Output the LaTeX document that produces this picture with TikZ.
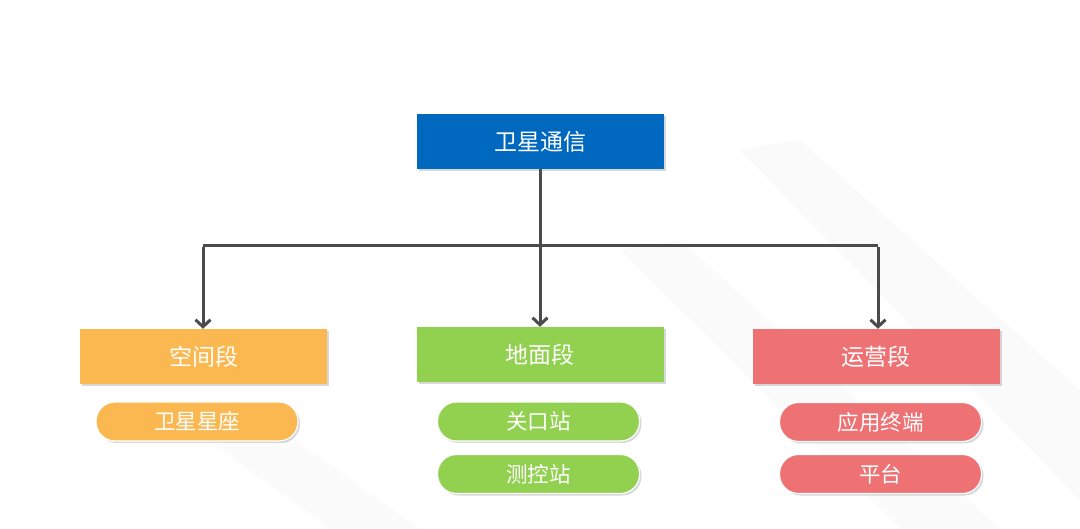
\documentclass[tikz,border=0pt]{standalone}
\usepackage{fontspec}
\setmainfont{Noto Sans CJK SC}
\usetikzlibrary{arrows.meta,shadows}
\definecolor{topblue}{HTML}{0068BF}
\definecolor{orgc}{HTML}{FBB850}
\definecolor{grnc}{HTML}{92D050}
\definecolor{redc}{HTML}{EE7173}
\definecolor{linec}{HTML}{4B4B4B}
\definecolor{bandc}{HTML}{F4F5F6}
\tikzset{
  x=1pt, y=-1pt,
  mainbox/.style={rectangle, minimum width=247pt, minimum height=55pt, inner sep=0pt,
    text=white, font=\fontsize{23}{27}\selectfont,
    drop shadow={shadow xshift=2pt, shadow yshift=-2pt, opacity=0.25, fill=black!60}},
  pill/.style={rectangle, rounded corners=19pt, minimum width=202pt, minimum height=39pt, inner sep=0pt,
    text=white, font=\fontsize{21.5}{24}\selectfont, draw=white, line width=1.2pt,
    drop shadow={shadow xshift=2pt, shadow yshift=-2pt, opacity=0.25, fill=black!60}},
  conn/.style={draw=linec, line width=3pt},
  arr/.style={conn, -{Straight Barb[length=7pt,width=15pt,line width=3pt]}}
}
\begin{document}
\begin{tikzpicture}
\useasboundingbox (0,0) rectangle (1080,529);
\fill[white] (0,0) rectangle (1080,529);
% faint background bands
\fill[bandc, opacity=0.45] (740,150) -- (800,140) -- (1080,390) -- (1080,500) -- cycle;
\fill[bandc, opacity=0.35] (620,250) -- (680,240) -- (1000,529) -- (900,529) -- cycle;
\fill[bandc, opacity=0.3] (180,420) -- (240,400) -- (420,529) -- (330,529) -- cycle;

\node[mainbox, fill=topblue] (top) at (540,141.5) {卫星通信};
\node[mainbox, fill=orgc] (space) at (203.5,356.5) {空间段};
\node[mainbox, fill=grnc] (ground) at (540,354.5) {地面段};
\node[mainbox, fill=redc] (ops) at (876,356.5) {运营段};

\node[pill, fill=orgc] (p1) at (197,421.5) {卫星星座};
\node[pill, fill=grnc] (p2) at (538.5,421.5) {关口站};
\node[pill, fill=grnc] (p3) at (538.5,474) {测控站};
\node[pill, fill=redc] (p4) at (880.5,422) {应用终端};
\node[pill, fill=redc] (p5) at (880.5,474) {平台};

\coordinate (bl) at (203,246);
\coordinate (bm) at (540,246);
\coordinate (br) at (878,246);
\draw[conn, line cap=butt] (bl) -- (br);
\draw[arr] (top.south) -- (ground.north);
\draw[arr] ([yshift=-1.5pt]bl) -- (space.north -| bl);
\draw[arr] ([yshift=-1.5pt]br) -- (ops.north -| br);
\end{tikzpicture}
\end{document}
